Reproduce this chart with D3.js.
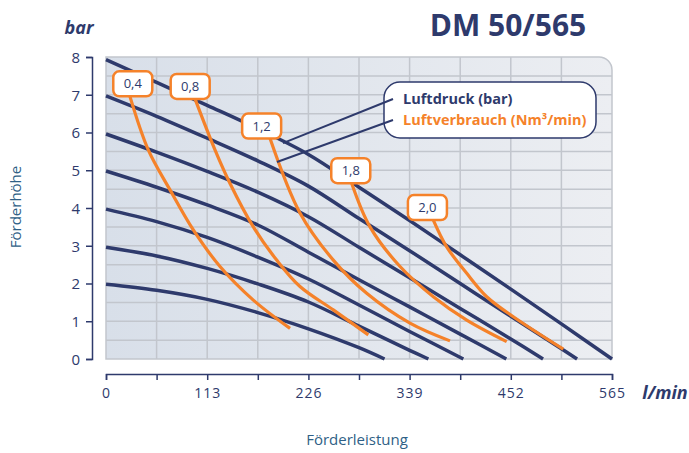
<!DOCTYPE html>
<html>
<head>
<meta charset="utf-8">
<script src="https://cdn.jsdelivr.net/npm/d3@7"></script>
<style>
  body { margin: 0; background: #fff; }
  svg text { font-family: "Open Sans", "Noto Sans", sans-serif; }
</style>
</head>
<body>
<div id="chart"></div>
<script>
// Axis ticks
const flowTicks = [0, 113, 226, 339, 452, 565];
const flowMinor = [0, 56.5, 113, 169.5, 226, 282.5, 339, 395.5, 452, 508.5, 565];
const headTicks = [0, 1, 2, 3, 4, 5, 6, 7, 8];

// Luftdruck curves (bar) : [l/min, bar]
const bar8 = [[0, 7.93], [56.5, 7.33], [113, 6.72], [169.5, 6.10], [226, 5.42], [282.5, 4.55], [339, 3.67], [395.5, 2.76], [452, 1.85], [508.5, 0.93], [565, 0]];
const bar7 = [[0, 6.97], [56.5, 6.43], [113, 5.85], [169.5, 5.25], [226, 4.58], [282.5, 3.72], [339, 2.87], [395.5, 2.00], [452, 1.13], [508.5, 0.27], [526, 0]];
const bar6 = [[0, 5.96], [56.5, 5.48], [113, 4.97], [169.5, 4.42], [226, 3.77], [282.5, 2.96], [339, 2.15], [395.5, 1.34], [452, 0.53], [488, 0]];
const bar5 = [[0, 4.98], [56.5, 4.55], [113, 4.08], [169.5, 3.55], [226, 2.83], [282.5, 2.10], [339, 1.38], [395.5, 0.66], [447, 0]];
const bar4 = [[0, 3.97], [56.5, 3.64], [113, 3.22], [169.5, 2.70], [226, 2.12], [282.5, 1.43], [339, 0.73], [399, 0]];
const bar3 = [[0, 2.96], [56.5, 2.73], [113, 2.40], [169.5, 1.99], [226, 1.51], [282.5, 0.87], [339, 0.23], [360, 0]];
const bar2 = [[0, 1.98], [56.5, 1.82], [113, 1.58], [169.5, 1.23], [226, 0.80], [282.5, 0.30], [311, 0]];

// Luftverbrauch curves (Nm3/min)
const air04 = [[26.8, 6.95], [47.2, 5.54], [71.5, 4.48], [97.5, 3.42], [127.3, 2.45], [164.5, 1.56], [205.5, 0.81]];
const air08 = [[99.4, 6.89], [121.7, 5.54], [138.5, 4.65], [164.5, 3.50], [190.6, 2.62], [216.6, 1.92], [253.8, 1.30], [292.9, 0.64]];
const air12 = [[183.1, 5.85], [216.6, 3.87], [253.8, 2.62], [291.1, 1.74], [339.4, 0.95], [384.1, 0.48]];
const air18 = [[274.4, 4.65], [294.8, 3.50], [328.3, 2.45], [365.5, 1.65], [402.8, 1.03], [447.4, 0.46]];
const air20 = [[365.5, 3.68], [380.4, 2.97], [402.8, 2.27], [425.1, 1.65], [454.8, 1.12], [510.6, 0.26]];

// label boxes on the consumption curves
const airLabels = ["0,4", "0,8", "1,2", "1,8", "2,0"];
const airLabelFlow = [29.9, 94.0, 173.8, 273.3, 358.9];
const airLabelHead = [7.29, 7.22, 6.17, 4.99, 4.01];

const navy = "#2e3a6c";
const orange = "#f5822a";
const teal = "#2f5f86";

const W = 689, H = 453;
const x0 = 106, x1 = 612, y0 = 57, y1 = 359;

const svg = d3.select("#chart")
    .append("svg")
    .attr("width", W)
    .attr("height", H);

const x = d3.scaleLinear().domain([0, 565]).range([x0, x1]);
const y = d3.scaleLinear().domain([0, 8]).range([y1, y0]);

// background gradient
const defs = svg.append("defs");
const grad = defs.append("linearGradient")
    .attr("id", "bg-grad")
    .attr("x1", "0%").attr("x2", "100%")
    .attr("y1", "0%").attr("y2", "0%");
grad.append("stop").attr("offset", "0%").attr("stop-color", "#d8dfe9");
grad.append("stop").attr("offset", "100%").attr("stop-color", "#eceef2");

const r = 13;
const plotShape = `M${x0},${y0}H${x1 - r}A${r},${r} 0 0 1 ${x1},${y0 + r}V${y1}H${x0}Z`;
svg.append("path")
    .attr("d", plotShape)
    .attr("fill", "url(#bg-grad)");

// grid
const grid = svg.append("g").attr("stroke", "#c2c6cd").attr("stroke-width", 1.5);
grid.selectAll(".vg")
    .data(flowMinor.slice(1, -1))
    .enter().append("line")
    .attr("x1", d => x(d)).attr("x2", d => x(d))
    .attr("y1", y0).attr("y2", y1);
grid.selectAll(".hg")
    .data(d3.range(1, 16).map(i => i * 0.5))
    .enter().append("line")
    .attr("x1", x0).attr("x2", x1)
    .attr("y1", d => y(d)).attr("y2", d => y(d));

svg.append("path")
    .attr("d", plotShape)
    .attr("fill", "none")
    .attr("stroke", "#c2c6cd")
    .attr("stroke-width", 1.5);

// axes
const yAxis = svg.append("g")
    .attr("transform", `translate(92,0)`)
    .call(d3.axisLeft(y).tickValues(headTicks).tickSize(6).tickSizeOuter(6).tickPadding(6));
yAxis.select(".domain").attr("stroke", navy).attr("stroke-width", 1.5);
yAxis.selectAll(".tick line").attr("stroke", navy).attr("stroke-width", 1.5);
yAxis.selectAll(".tick text")
    .attr("fill", navy)
    .style("font-size", "15px")
    .attr("dy", "0.35em");

const xAxis = svg.append("g")
    .attr("transform", `translate(0,374)`)
    .call(d3.axisBottom(x).tickValues(flowMinor).tickSize(6).tickSizeOuter(6).tickPadding(8)
        .tickFormat(d => flowTicks.includes(d) ? d : ""));
xAxis.select(".domain").attr("stroke", navy).attr("stroke-width", 1.5);
xAxis.selectAll(".tick line").attr("stroke", navy).attr("stroke-width", 1.5);
xAxis.selectAll(".tick text")
    .attr("fill", navy)
    .style("font-size", "14px")
    .style("letter-spacing", "1px");

// curves
const line = d3.line()
    .x(d => x(d[0]))
    .y(d => y(d[1]))
    .curve(d3.curveCatmullRom.alpha(0.5));

svg.append("g").selectAll("path")
    .data([bar2, bar3, bar4, bar5, bar6, bar7, bar8])
    .enter().append("path")
    .attr("d", line)
    .attr("fill", "none")
    .attr("stroke", navy)
    .attr("stroke-width", 3.5);

svg.append("g").selectAll("path")
    .data([air04, air08, air12, air18, air20])
    .enter().append("path")
    .attr("d", line)
    .attr("fill", "none")
    .attr("stroke", orange)
    .attr("stroke-width", 3.2);

// label boxes
const labels = svg.append("g").selectAll("g")
    .data(airLabels)
    .enter().append("g")
    .attr("transform", (d, i) => `translate(${x(airLabelFlow[i])},${y(airLabelHead[i])})`);
labels.append("rect")
    .attr("x", -19.5).attr("y", -12.5)
    .attr("width", 39).attr("height", 25)
    .attr("rx", 6)
    .attr("fill", "#fff")
    .attr("stroke", orange)
    .attr("stroke-width", 2.5);
labels.append("text")
    .attr("text-anchor", "middle")
    .attr("dy", "0.35em")
    .attr("fill", navy)
    .style("font-size", "13px")
    .text(d => d);

// legend with leader lines
const legend = svg.append("g");
legend.append("rect")
    .attr("x", 384).attr("y", 82)
    .attr("width", 212).attr("height", 56)
    .attr("rx", 16)
    .attr("fill", "#fff")
    .attr("stroke", navy)
    .attr("stroke-width", 1.5);
legend.append("line")
    .attr("x1", 393).attr("y1", 99)
    .attr("x2", x(197.6)).attr("y2", y(5.72))
    .attr("stroke", navy).attr("stroke-width", 2);
legend.append("line")
    .attr("x1", 393).attr("y1", 120)
    .attr("x2", x(190.9)).attr("y2", y(5.22))
    .attr("stroke", navy).attr("stroke-width", 2);
legend.append("text")
    .attr("x", 403).attr("y", 104)
    .attr("fill", navy)
    .style("font-size", "14.5px")
    .style("font-weight", "bold")
    .text("Luftdruck (bar)");
legend.append("text")
    .attr("x", 403).attr("y", 125)
    .attr("fill", orange)
    .style("font-size", "14.5px")
    .style("font-weight", "bold")
    .text("Luftverbrauch (Nm³/min)");

// titles and unit labels
svg.append("text")
    .attr("x", 508).attr("y", 36)
    .attr("text-anchor", "middle")
    .attr("fill", navy)
    .style("font-size", "30px")
    .style("font-weight", "bold")
    .text("DM 50/565");

svg.append("text")
    .attr("x", 79).attr("y", 34)
    .attr("text-anchor", "middle")
    .attr("fill", navy)
    .style("font-size", "18px")
    .style("font-weight", "bold")
    .style("font-style", "italic")
    .text("bar");

svg.append("text")
    .attr("x", 665).attr("y", 399)
    .attr("text-anchor", "middle")
    .attr("fill", navy)
    .style("font-size", "18px")
    .style("font-weight", "bold")
    .style("font-style", "italic")
    .text("l/min");

svg.append("text")
    .attr("transform", "rotate(-90)")
    .attr("x", -207).attr("y", 21)
    .attr("text-anchor", "middle")
    .attr("fill", teal)
    .style("font-size", "15px")
    .text("Förderhöhe");

svg.append("text")
    .attr("x", 357).attr("y", 445)
    .attr("text-anchor", "middle")
    .attr("fill", teal)
    .style("font-size", "15px")
    .text("Förderleistung");
</script>
</body>
</html>
